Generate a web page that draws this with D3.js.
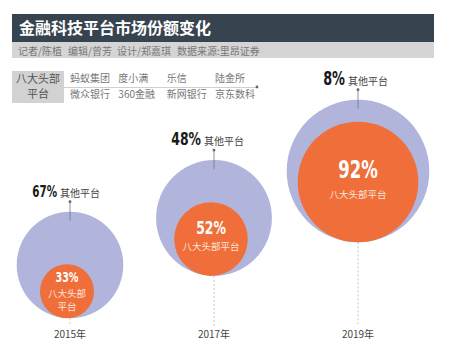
<!DOCTYPE html>
<html>
<head>
<meta charset="utf-8">
<script src="https://cdn.jsdelivr.net/npm/d3@7"></script>
<style>
  body { margin: 0; background: #fff; }
  svg text { font-family: "Noto Sans CJK SC", sans-serif; }
  svg text.pct { font-family: "DejaVu Sans Condensed", "DejaVu Sans", sans-serif; font-stretch: condensed; font-weight: bold; }
</style>
</head>
<body>
<svg id="chart"></svg>
<script>
// data
const years = ["2015年", "2017年", "2019年"];
const topShare = [33, 52, 92];          // 八大头部平台 %
const otherShare = [67, 48, 8];         // 其他平台 %
const marketIndex = [1.0, 1.18, 1.79];  // relative market size (outer circle area)
const legendRow1 = ["蚂蚁集团", "度小满", "乐信", "陆金所"];
const legendRow2 = ["微众银行", "360金融", "新网银行", "京东数科"];
const credits = ["记者/陈植", "编辑/曾芳", "设计/郑嘉琪", "数据来源:里昂证券"];

const width = 469, height = 352;
const otherFont = [15, 18, 19];
const topFont = [14, 18, 24];

const svg = d3.select("#chart")
    .attr("width", width)
    .attr("height", height);

// header
svg.append("rect").attr("x", 12).attr("y", 14).attr("width", 422).attr("height", 28).attr("fill", "#37444f");
svg.append("text").attr("x", 19).attr("y", 34)
    .attr("fill", "#fff").attr("font-size", 16).attr("font-weight", "bold")
    .text("金融科技平台市场份额变化");
svg.append("rect").attr("x", 12).attr("y", 42).attr("width", 422).attr("height", 16).attr("fill", "#d5d5d5");
const creditX = [18, 68, 117, 177];
svg.selectAll(".credit")
    .data(credits)
    .join("text")
    .attr("class", "credit")
    .attr("x", (d, i) => creditX[i])
    .attr("y", 54.5)
    .attr("fill", "#777").attr("font-size", 10)
    .text(d => d);

// legend block
const legend = svg.append("g");
legend.append("rect").attr("x", 12).attr("y", 71).attr("width", 52).attr("height", 32).attr("fill", "#d2d2d2");
legend.append("text").attr("x", 38).attr("y", 83).attr("text-anchor", "middle")
    .attr("font-size", 11).attr("fill", "#555").text("八大头部");
legend.append("text").attr("x", 38).attr("y", 98).attr("text-anchor", "middle")
    .attr("font-size", 11).attr("fill", "#555").text("平台");
legend.append("line").attr("x1", 64).attr("x2", 256).attr("y1", 87.5).attr("y2", 87.5)
    .attr("stroke", "#c4c4c4").attr("stroke-width", 0.8);
legend.append("circle").attr("cx", 257).attr("cy", 87).attr("r", 1.4).attr("fill", "#666");

const colX = d3.scalePoint().domain(d3.range(4)).range([70, 215]);
[legendRow1, legendRow2].forEach((row, ri) => {
    legend.selectAll(".lg" + ri)
        .data(row)
        .join("text")
        .attr("class", "lg" + ri)
        .attr("x", (d, i) => colX(i))
        .attr("y", ri === 0 ? 82 : 98)
        .attr("font-size", 10)
        .attr("fill", "#777")
        .text(d => d);
});

// scales
const xScale = d3.scalePoint().domain(years).range([70, 358]);
const yScale = d3.scaleLinear().domain([0, 2]).range([265, 171]);
const rScale = d3.scaleSqrt().domain([0, 1.8]).range([0, 71.5]);
// orange circle: volume of the top platforms
const rTop = d3.scaleSqrt().domain([0, 1]).range([0, 47]);

const data = years.map((y, i) => {
    const R = rScale(marketIndex[i]);
    const r = rTop(marketIndex[i] * topShare[i] / 100);
    const cx = xScale(y), cy = yScale(i);
    const icx = cx - (topShare[i] < 90 ? 3 : 0);
    return { i, year: y, top: topShare[i], other: otherShare[i], cx, cy, R, r, icx, icy: cy + R - r };
});

// condensed percent label: draw, measure, squeeze horizontally
function pctLabel(sel, x, y, fs, anchor, fill, value) {
    const want = fs * (0.5 * String(value).length + 0.65);
    const grp = sel.append("g");
    const t = grp.append("text").attr("class", "pct")
        .attr("font-size", fs).attr("fill", fill)
        .text(value + "%");
    const w = t.node().getComputedTextLength();
    const sx = want / w;
    const x0 = anchor === "end" ? x - want : anchor === "middle" ? x - want / 2 : x;
    grp.attr("transform", `translate(${x0},${y}) scale(${sx},1)`);
}

const g = svg.selectAll(".yr")
    .data(data)
    .join("g")
    .attr("class", "yr");

// dashed guide to year label
g.append("line")
    .attr("x1", d => d.cx).attr("x2", d => d.cx)
    .attr("y1", d => d.cy + d.R).attr("y2", 326)
    .attr("stroke", "#c8c8c8").attr("stroke-dasharray", "2,2");

g.append("circle")
    .attr("cx", d => d.cx).attr("cy", d => d.cy).attr("r", d => d.R)
    .attr("fill", "#b1b4db");

g.append("circle")
    .attr("cx", d => d.icx).attr("cy", d => d.icy).attr("r", d => d.r)
    .attr("fill", "#ef6e3a");

// pointer from label to outer circle
g.append("line")
    .attr("x1", d => d.cx).attr("x2", d => d.cx)
    .attr("y1", d => d.cy - d.R - 10).attr("y2", d => d.cy - d.R + 9)
    .attr("stroke", "#777").attr("stroke-width", 0.8);
g.append("circle")
    .attr("cx", d => d.cx).attr("cy", d => d.cy - d.R - 10).attr("r", 1.4)
    .attr("fill", "#666");

// labels
const pctDy = [-9, -5, -3.5];
const nameDy = [6, 11, 16.5];
g.each(function(d) {
    const sel = d3.select(this);
    const ly = d.cy - d.R - 15;
    pctLabel(sel, d.cx - 13, ly, otherFont[d.i], "end", "#1a1a1a", d.other);
    sel.append("text")
        .attr("x", d.cx - 10).attr("y", ly)
        .attr("font-size", 10).attr("fill", "#444")
        .text("其他平台");

    pctLabel(sel, d.icx, d.icy + pctDy[d.i], topFont[d.i], "middle", "#fff", d.top);
    const lines = d.top < 40 ? ["八大头部", "平台"] : ["八大头部平台"];
    sel.selectAll(".inn")
        .data(lines)
        .join("text")
        .attr("class", "inn")
        .attr("x", d.icx)
        .attr("y", (t, k) => d.icy + nameDy[d.i] + k * 12.5)
        .attr("text-anchor", "middle")
        .attr("font-size", 9.5)
        .attr("fill", "#fde3d6")
        .text(t => t);
});

// year labels
g.append("text")
    .attr("x", d => d.cx).attr("y", 338)
    .attr("text-anchor", "middle")
    .attr("font-size", 10).attr("fill", "#444")
    .text(d => d.year);
</script>
</body>
</html>
